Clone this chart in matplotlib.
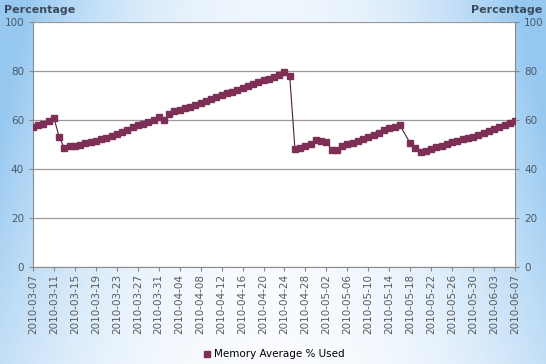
import numpy as np
import pandas as pd
import matplotlib
matplotlib.use("Agg")
import matplotlib.pyplot as plt
from matplotlib.lines import Line2D

# daily memory usage, 2010-03-07 .. 2010-06-07 (nan = no sample that day)
start_date = "2010-03-07"
end_date = "2010-06-07"
memory_used = [
    57.0, 57.8, 58.5, 59.5, 60.8, 53.0, 48.5, 49.5, 49.2, 49.8,
    50.5, 51.0, 51.5, 52.2, 52.8, 53.4, 54.3, 55.2, 55.8, 57.0,
    57.8, 58.5, 59.3, 60.2, 61.2, 59.8, 62.5, 63.5, 64.2, 64.8,
    65.5, 66.2, 67.0, 67.8, 68.6, 69.5, 70.3, 71.0, 71.6, 72.3,
    73.0, 74.0, 74.8, 75.5, 76.2, 76.8, 77.5, 78.5, 79.5, 78.0,
    48.0, 48.6, 49.2, 50.0, 51.8, 51.5, 51.2, 47.8, 47.8, 49.2,
    50.0, 50.7, 51.5, 52.3, 53.0, 53.8, 54.8, 56.0, 56.8, 57.3,
    58.0, np.nan, 50.5, 48.5, 46.8, 47.2, 48.0, 48.8, 49.5, 50.2,
    51.0, 51.6, 52.2, 52.6, 53.2, 54.0, 54.8, 55.5, 56.2, 57.0,
    57.8, 58.6, 59.5,
]
series_name = "Memory Average % Used"
y_ticks = [0, 20, 40, 60, 80, 100]
label_step = 4

dates = pd.date_range(start_date, end_date, freq="D")
data = pd.Series(memory_used, index=dates).dropna()
day_no = np.array([(d - dates[0]).days for d in data.index])

fig = plt.figure(figsize=(5.46, 3.64), dpi=100)

# blue-to-white background gradient
bg = fig.add_axes([0, 0, 1, 1], zorder=-1)
gx = np.linspace(-1, 1, 300)
gy = np.linspace(0, 1, 200)
X, Y = np.meshgrid(gx, gy)
w = np.clip(np.abs(X) ** 2.2 * (0.55 + 0.55 * (1 - Y)) + 0.12 * (1 - Y), 0, 1)
edge = np.array([150, 200, 240]) / 255.0
white = np.array([250, 252, 255]) / 255.0
img = white[None, None, :] * (1 - w[..., None]) + edge[None, None, :] * w[..., None]
bg.imshow(img, aspect="auto", extent=[0, 1, 0, 1], origin="upper")
bg.axis("off")

ax = fig.add_axes([33 / 546, 1 - 267 / 364, 482 / 546, 245 / 364])
ax.set_facecolor("white")

ax.plot(day_no, data.values, color="#4a2035", linewidth=0.8,
        marker="s", markersize=4.0, markerfacecolor="#7e2f56",
        markeredgecolor="#7e2f56", zorder=3)

ax.set_xlim(0, day_no.max())
ax.set_ylim(0, 100)
ax.set_yticks(y_ticks)
ax.yaxis.grid(True, color="#9a9a9a", linewidth=0.9)
ax.set_axisbelow(True)

tick_days = np.arange(0, len(dates), label_step)
ax.set_xticks(tick_days)
ax.set_xticklabels([dates[i].strftime("%Y-%m-%d") for i in tick_days],
                   rotation=90, fontsize=7.5, color="#5a5a5a")

txt_color = "#4a5a6a"
ax.tick_params(axis="y", labelsize=7.5, labelcolor=txt_color, color="#888888",
               length=3, left=True, right=True, labelleft=True, labelright=True)
ax.tick_params(axis="x", color="#888888", length=3, pad=2)

for side in ["left", "right", "bottom"]:
    ax.spines[side].set_color("#8a8a8a")
ax.spines["top"].set_visible(False)

fig.text(0.008, 0.972, "Percentage", fontsize=8, fontweight="bold",
         color="#3c4b5c", ha="left", va="center")
fig.text(0.994, 0.972, "Percentage", fontsize=8, fontweight="bold",
         color="#3c4b5c", ha="right", va="center")

handle = Line2D([], [], linestyle="none", marker="s", markersize=4.5,
                markerfacecolor="#7e2f56", markeredgecolor="#7e2f56")
fig.legend([handle], [series_name], loc="center", bbox_to_anchor=(0.5, 0.027),
           frameon=False, fontsize=7.5, handletextpad=0.2, handlelength=1.0)

fig.savefig("out.png", dpi=100)
